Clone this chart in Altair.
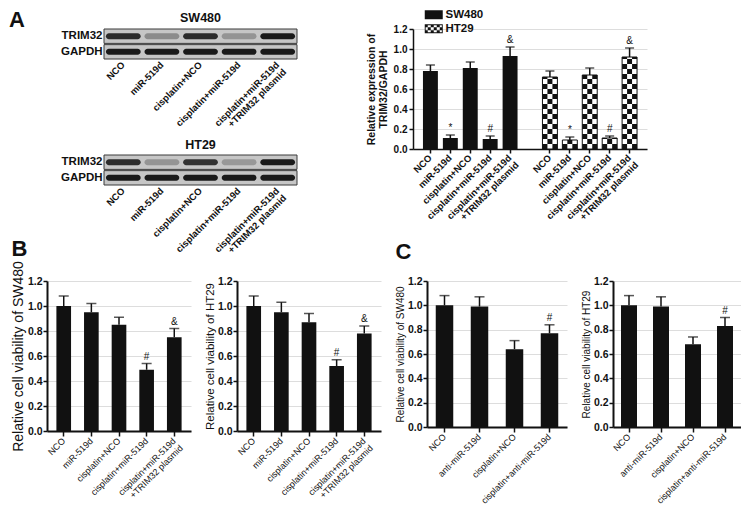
import altair as alt
import pandas as pd

FONT = "Liberation Sans"
INK = "#111111"

# ---------------- data ----------------
lanes = ["NCO", "miR-519d", "cisplatin+NCO", "cisplatin+miR-519d",
         "cisplatin+miR-519d|+TRIM32 plasmid"]
proteins = ["TRIM32", "GAPDH"]
sw_trim32 = [0.85, 0.32, 0.85, 0.28, 0.95]
sw_gapdh = [0.95, 0.95, 0.95, 0.95, 0.95]
ht_trim32 = [0.85, 0.28, 0.82, 0.25, 0.95]
ht_gapdh = [0.95, 0.95, 0.95, 0.95, 0.95]

a_sw_mean = [0.78, 0.11, 0.81, 0.10, 0.93]
a_sw_upper = [0.84, 0.14, 0.87, 0.13, 1.02]
a_sw_sig = ["", "*", "", "#", "&"]
a_ht_mean = [0.72, 0.09, 0.74, 0.11, 0.92]
a_ht_upper = [0.78, 0.12, 0.81, 0.13, 1.01]
a_ht_sig = ["", "*", "", "#", "&"]

b_sw_mean = [1.00, 0.95, 0.85, 0.49, 0.75]
b_sw_upper = [1.08, 1.02, 0.91, 0.54, 0.82]
b_sw_sig = ["", "", "", "#", "&"]
b_ht_mean = [1.00, 0.95, 0.87, 0.52, 0.78]
b_ht_upper = [1.08, 1.03, 0.94, 0.57, 0.84]
b_ht_sig = ["", "", "", "#", "&"]

c_groups = ["NCO", "anti-miR-519d", "cisplatin+NCO", "cisplatin+anti-miR-519d"]
c_sw_mean = [1.00, 0.99, 0.64, 0.77]
c_sw_upper = [1.08, 1.07, 0.71, 0.84]
c_sw_sig = ["", "", "", "#"]
c_ht_mean = [1.00, 0.99, 0.68, 0.83]
c_ht_upper = [1.08, 1.07, 0.74, 0.90]
c_ht_sig = ["", "", "", "#"]

y_ticks = [0.0, 0.2, 0.4, 0.6, 0.8, 1.0, 1.2]
lines = ["SW480", "HT29"]

# layout constants (pixels)
BLOT_OFF = 57      # blot box starts this far right of the panel-B plot edge
BLOT_W = 193
BLOT_H = 30


# ---------------- western blots ----------------
def blot(name, trim, gapdh, letter=None):
    df = pd.DataFrame({"lane": lanes * 2,
                       "protein": ["TRIM32"] * len(lanes) + ["GAPDH"] * len(lanes),
                       "level": trim + gapdh})
    rows = pd.DataFrame({"protein": proteins})
    x = alt.X("lane:N", sort=lanes, title=None,
              scale=alt.Scale(range=[BLOT_OFF, BLOT_OFF + BLOT_W], paddingInner=0, paddingOuter=0),
              axis=alt.Axis(labelAngle=315, labelAlign="right", labelBaseline="middle",
                            labelExpr="split(datum.label, '|')", labelFontSize=9.5,
                            labelFontWeight="bold", labelColor=INK, labelPadding=4,
                            ticks=False, domain=False, labelLineHeight=10))
    yaxis = dict(ticks=False, domain=False, labelFontSize=11.5, labelFontWeight="bold",
                 labelColor=INK, labelPadding=2, offset=-BLOT_OFF)
    if letter:
        yaxis.update(titleAngle=0, titleFontSize=22, titleFontWeight="bold", titleColor=INK,
                     titleY=-3, titlePadding=36, titleAlign="right",
                     titleBaseline="alphabetic")
    y = alt.Y("protein:N", sort=proteins, title=letter if letter else None,
              scale=alt.Scale(paddingInner=0.08, paddingOuter=0),
              axis=alt.Axis(**yaxis))
    frame = alt.Chart(rows).mark_rect(fill="#c6c6c6", stroke="#3a3a3a", strokeWidth=1).encode(
        y=y, x=alt.value(BLOT_OFF), x2=alt.value(BLOT_OFF + BLOT_W))
    bands = alt.Chart(df).mark_rect(color="#111111", width={"band": 0.9},
                                    height={"band": 0.42}, cornerRadius=3).encode(
        x=x, y=y, opacity=alt.Opacity("level:Q", scale=None, legend=None))
    return alt.layer(frame, bands).properties(
        width=BLOT_OFF + BLOT_W, height=BLOT_H,
        title=alt.Title(name, fontSize=12.5, fontWeight="bold", dx=BLOT_OFF / 2,
                        offset=-16 if letter else 3))


# ---------------- panel A bar chart ----------------
sw_keys = [l + "~S" for l in lanes]
ht_keys = [l + "~H" for l in lanes]
a_domain = sw_keys + ["gap"] + ht_keys

xa = alt.X("key:N", title=None, sort=a_domain,
           scale=alt.Scale(domain=a_domain, paddingInner=0.25, paddingOuter=0.5),
           axis=alt.Axis(labelAngle=315, labelAlign="right", labelBaseline="middle",
                         labelExpr="datum.value == 'gap' ? '' : split(split(datum.value, '~')[0], '|')",
                         labelFontSize=9.5, labelFontWeight="bold", labelColor=INK,
                         labelPadding=3, labelLineHeight=10,
                         tickSize=4, tickWidth=1.5, tickColor=INK,
                         tickOpacity={"condition": {"test": "datum.value == 'gap'", "value": 0}, "value": 1},
                         domainColor=INK, domainWidth=1.5))


def ya(field):
    return alt.Y(f"{field}:Q", title=["Relative expression of", "TRIM32/GAPDH"],
                 scale=alt.Scale(domain=[0, 1.2], nice=False),
                 axis=alt.Axis(values=y_ticks, format=".1f", labelFontSize=10,
                               labelFontWeight="bold", labelColor=INK, tickSize=4,
                               tickWidth=1.5, tickColor=INK, domainColor=INK,
                               domainWidth=1.5, titleFontSize=10.5, titleFontWeight="bold",
                               titleColor=INK, titlePadding=5, titleLineHeight=12))


df_sw = pd.DataFrame({"key": sw_keys, "mean": a_sw_mean, "upper": a_sw_upper, "sig": a_sw_sig})
df_ht = pd.DataFrame({"key": ht_keys, "mean": a_ht_mean, "upper": a_ht_upper, "sig": a_ht_sig})
df_all = pd.concat([df_sw, df_ht], ignore_index=True)

# checkerboard cells filling each HT29 bar (pattern cell = 0.05 units tall, 3 columns)
cells = []
for key, m in zip(ht_keys, a_ht_mean):
    k = 0
    while k * 0.05 < m - 1e-9:
        y0, y1 = k * 0.05, min((k + 1) * 0.05, m)
        for c in range(3):
            if (k + c) % 2 == 0:
                cells.append({"key": key, "col": c, "y0": y0, "y1": y1})
        k += 1
df_cells = pd.DataFrame(cells)


def rect_path():
    return "M-2,-1H2V1H-2Z"


def checker_path():
    p = "M-2,-1H2V1H-2Z M-1.8,-0.8V0.8H1.8V-0.8Z"
    cw, ch = 4 / 6, 2 / 3
    for r in range(3):
        for c in range(6):
            if (r + c) % 2 == 0:
                x0, y0 = -2 + c * cw, -1 + r * ch
                p += f" M{x0:.3f},{y0:.3f}H{x0 + cw:.3f}V{y0 + ch:.3f}H{x0:.3f}Z"
    return p


df_leg = pd.DataFrame({"line": lines, "key": [sw_keys[0], ht_keys[0]], "mean": [0.0, 0.0]})

a_sw_bars = alt.Chart(df_sw).mark_bar(color=INK).encode(x=xa, y=ya("mean"))
a_ht_bars = alt.Chart(df_ht).mark_bar(fill="white", stroke=INK, strokeWidth=1).encode(x=xa, y=ya("mean"))
a_cells = alt.Chart(df_cells).mark_rect(color=INK).encode(
    x=xa, xOffset=alt.XOffset("col:N", scale=alt.Scale(paddingInner=0, paddingOuter=0)),
    y=ya("y0"), y2="y1")
a_err = alt.Chart(df_all).mark_rule(color=INK, strokeWidth=1.5).encode(x=xa, y=ya("mean"), y2="upper")
a_cap = alt.Chart(df_all).mark_tick(color=INK, thickness=1.5, size=9).encode(x=xa, y=ya("upper"))
a_sig = alt.Chart(df_all).mark_text(color=INK, fontSize=10, dy=-7).encode(x=xa, y=ya("upper"), text="sig:N")
a_leg = alt.Chart(df_leg).mark_point(filled=True, opacity=0, color=INK).encode(
    x=xa, y=ya("mean"),
    shape=alt.Shape("line:N", scale=alt.Scale(domain=lines, range=[rect_path(), checker_path()]),
                    legend=alt.Legend(title=None, orient="none", legendX=15, legendY=-20,
                                      symbolSize=81, symbolStrokeWidth=0, labelFontSize=11.5,
                                      labelFontWeight="bold", labelColor=INK, labelOffset=6,
                                      rowPadding=1, padding=0)))

chart_a = alt.layer(a_sw_bars, a_ht_bars, a_cells, a_err, a_cap, a_sig, a_leg).properties(
    width=234, height=120)


# ---------------- panels B and C ----------------
def viability(groups, mean, upper, sig, ytitle, tsize, W, H, pi, po, letter=None, loff=0):
    df = pd.DataFrame({"g": groups, "mean": mean, "upper": upper, "sig": sig})
    x = alt.X("g:N", sort=groups, title=None,
              scale=alt.Scale(paddingInner=pi, paddingOuter=po),
              axis=alt.Axis(labelAngle=315, labelAlign="right", labelBaseline="middle",
                            labelExpr="split(datum.label, '|')", labelFontSize=9,
                            labelColor=INK, labelPadding=3, labelLineHeight=10,
                            tickSize=5, tickWidth=1.5, tickColor=INK,
                            domainColor=INK, domainWidth=2))

    def Y(f):
        return alt.Y(f"{f}:Q", title=ytitle, scale=alt.Scale(domain=[0, 1.2], nice=False),
                     axis=alt.Axis(values=y_ticks, format=".1f", labelFontSize=10.5,
                                   labelFontWeight="bold", labelColor=INK, tickSize=4,
                                   tickWidth=1.5, tickColor=INK, domainColor=INK,
                                   domainWidth=2, titleFontSize=tsize, labelPadding=1,
                                   titleFontWeight="normal", titleColor=INK, titlePadding=2))

    base = alt.Chart(df)
    bars = base.mark_bar(color=INK).encode(x=x, y=Y("mean"))
    err = base.mark_rule(color=INK, strokeWidth=1.5).encode(x=x, y=Y("mean"), y2="upper")
    cap = base.mark_tick(color=INK, thickness=1.5, size=10).encode(x=x, y=Y("upper"))
    txt = base.mark_text(color=INK, fontSize=10, dy=-7).encode(x=x, y=Y("upper"), text="sig:N")
    ch = alt.layer(bars, err, cap, txt).properties(width=W, height=H)
    if letter:
        ch = ch.properties(title=alt.Title(letter, anchor="start", frame="bounds",
                                           fontSize=22, fontWeight="bold", offset=loff))
    return ch


b1 = viability(lanes, b_sw_mean, b_sw_upper, b_sw_sig, "Relative cell viability of SW480",
               14, 144, 150, 0.47, 0.34, "B", 0)
b2 = viability(lanes, b_ht_mean, b_ht_upper, b_ht_sig, "Relative cell viability of HT29",
               11.5, 144, 150, 0.47, 0.34)
c1 = viability(c_groups, c_sw_mean, c_sw_upper, c_sw_sig, "Relative cell viability of SW480",
               10, 140, 146, 0.5, 0.25, "C", 12)
c2 = viability(c_groups, c_ht_mean, c_ht_upper, c_ht_sig, "Relative cell viability of HT29",
               10, 128, 146, 0.5, 0.25)

blots = alt.vconcat(blot("SW480", sw_trim32, sw_gapdh, "A"), blot("HT29", ht_trim32, ht_gapdh),
                    spacing=4)

row1 = alt.hconcat(blots, chart_a, spacing=68).resolve_legend(shape="independent")
row2 = alt.hconcat(b1, b2, c1, c2, spacing=46, bounds="flush")

chart = alt.vconcat(row1, row2, spacing=-24).resolve_legend(shape="independent").properties(
    padding={"left": 0, "top": 0, "right": 0, "bottom": 0}
).configure(font=FONT, background="white").configure_view(stroke=None).configure_title(
    font=FONT, color=INK)

chart.save("out.html", embed_options={"renderer": "svg", "actions": False})
